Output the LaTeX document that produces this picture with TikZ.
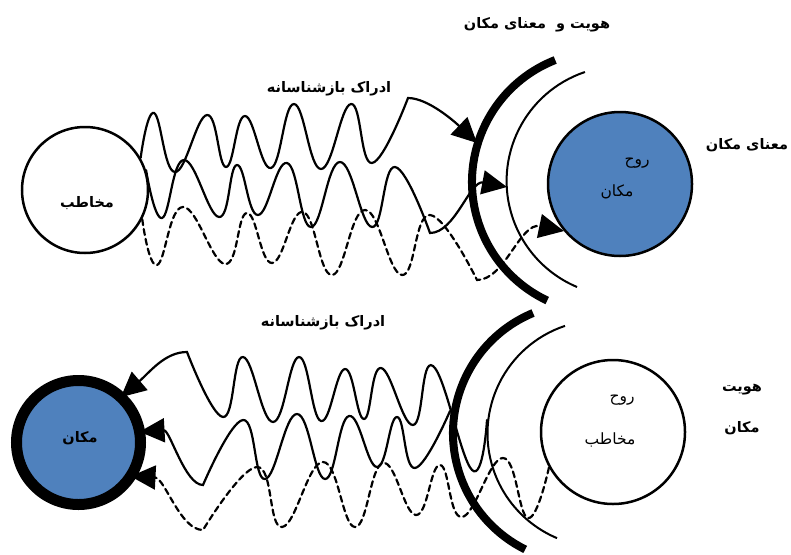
\documentclass[tikz,border=0pt]{standalone}
\usepackage{fontspec}
\newfontfamily\persian[Script=Arabic]{DejaVu Sans}
\TeXXeTstate=1
\usepackage{tikz}
\usetikzlibrary{arrows.meta}
\definecolor{placeblue}{HTML}{4F81BD}
\newcommand{\fa}[1]{{\persian\beginR #1\endR}}

\tikzset{
    wave/.style={line width=2.2pt, line cap=round},
    dashwave/.style={wave, dash pattern=on 6pt off 4pt},
    hitarrow/.style={-{Triangle[length=25pt, width=24pt]}},
    farsibold/.style={font=\persian\bfseries\fontsize{14.5}{17}\selectfont, inner sep=0pt},
    farsi/.style={font=\persian\fontsize{15.5}{18}\selectfont, inner sep=0pt}
}

\begin{document}
\begin{tikzpicture}[x=1pt, y=-1pt]
        \useasboundingbox (0,0) rectangle (791,554);

        % Draw circles
        \node[draw, circle, line width=2.5pt, minimum size=126pt] (aud) at (85,190) {};
        \node[draw, circle, line width=2.5pt, fill=placeblue, minimum size=144pt] (spirit) at (620,184) {};
        \node[draw, circle, line width=11pt, outer sep=0pt, fill=placeblue, minimum size=124pt] (place) at (78.5,442.5) {};
        \node[draw, circle, line width=2.5pt, minimum size=144pt] (audsp) at (613,432) {};

        % Draw arcs (thick outer, thin inner)
        \foreach \cx/\cy/\r/\a/\b/\w in {603/182/131/-111.4/-244.8/8, 621.6/181/115/-108.6/-247.2/2,
                                         583/433/130/-112.6/-243.6/8, 601/433.5/113.5/-108.5/-247.2/2}
            \draw[line width=\w pt] (\cx,\cy) ++(\a:\r) arc[start angle=\a, end angle=\b, radius=\r];

        % Points where the waves meet the arcs
        \coordinate (hitA) at (477,143);
        \coordinate (hitB) at (507,187);
        \coordinate (srcA) at (487,420);
        \coordinate (srcB) at (450,411);

        % Top waves: audience to place
        \draw[wave, hitarrow] plot[smooth, tension=0.75] coordinates {(aud.30) (154,113) (175,172) (207,115) (226,167) (245,116)
            (271,168) (294,104) (321,169) (351,104) (372,163) (408,98)} .. controls (428,98) and (455,122) .. (hitA);
        \draw[wave, hitarrow] plot[smooth, tension=0.75] coordinates {(aud.18) (162,218) (184,160) (219,217) (237,165) (258,215)
            (287,163) (311,227) (340,162) (372,227) (395,167) (430,233)} .. controls (455,233) and (470,180) .. (hitB);
        \draw[dashwave, hitarrow] plot[smooth, tension=0.75] coordinates {(aud.-27) (157,265) (183,207) (225,264) (247,213) (272,263)
            (303,212) (332,275) (365,210) (402,275) (430,215) (477,280)} .. controls (505,280) and (520,222) .. (spirit.220);

        % Bottom waves: audience back to place
        \draw[wave, hitarrow] plot[smooth, tension=0.75] coordinates {(srcA) (472,470) (433,366) (413,425) (381,368) (364,419) (345,369)
            (321,421) (299,357) (273,422) (243,357) (223,417) (187,352)} .. controls (165,352) and (150,372) .. (place.47);
        \draw[wave, hitarrow] plot[smooth, tension=0.75] coordinates {(srcB) (415,468) (397,417) (377,467) (349,416) (325,479)
            (297,414) (265,479) (243,420) (203,485)} .. controls (185,485) and (170,430) .. (place.10);
        \draw[dashwave, hitarrow] plot[smooth, tension=0.75] coordinates {(audsp.209) (528,518) (503,458) (462,517) (440,465) (416,515)
            (383,463) (355,527) (323,462) (282,527) (257,467) (203,530)} .. controls (180,530) and (165,478) .. (place.-33);

        % Labels
        \node[farsibold] (title) at (537,25) {\fa{هویت و \ معنای مکان}};
        \node[farsibold] (meaning) at (747,145) {\fa{معنای مکان}};
        \node[farsi] (spirit1) at (637,163) {\fa{روح}};
        \node[farsi] (spirit2) at (617,192) {\fa{مکان}};
        \node[farsibold] (perc1) at (329,89) {\fa{ادراک بازشناسانه}};
        \node[farsibold] (audname) at (87,203) {\fa{مخاطب}};
        \node[farsibold] (perc2) at (323,323) {\fa{ادراک بازشناسانه}};
        \node[farsibold] (placename) at (80,438) {\fa{مکان}};
        \node[farsi] (spirit3) at (622,400) {\fa{روح}};
        \node[farsi] (spirit4) at (610,440) {\fa{مخاطب}};
        \node[farsibold] (ident1) at (742,390) {\fa{هویت}};
        \node[farsibold] (ident2) at (742,428) {\fa{مکان}};

    \end{tikzpicture}
\end{document}
